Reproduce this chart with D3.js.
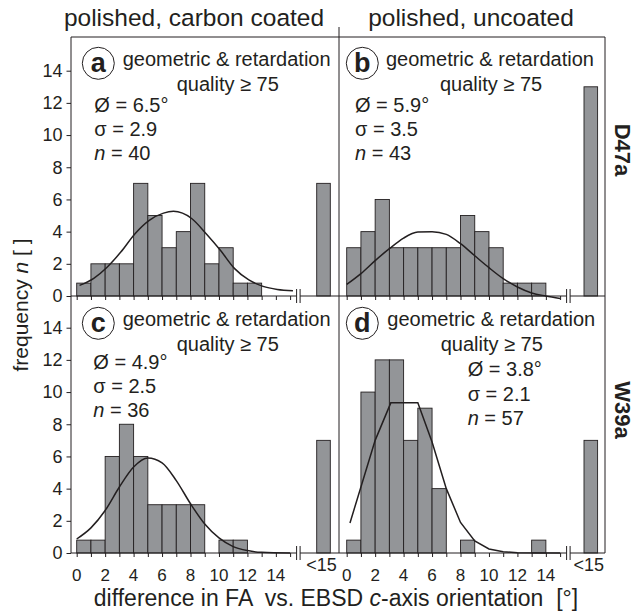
<!DOCTYPE html>
<meta charset="utf-8">
<style>
body { margin: 0; background: #fff; }
svg text { font-family: "Liberation Sans", Arial, sans-serif; fill: #231f20; }
</style>
<script src="https://d3js.org/d3.v7.min.js"></script>
<div id="chart"></div>
<script>

// ---- data ----
var bins = [0, 1, 2, 3, 4, 5, 6, 7, 8, 9, 10, 11, 12, 13, 14];
var countsA = [0.8, 2, 2, 2, 7, 5, 3, 4, 7, 2, 3, 0.8, 0.8, 0, 0];
var countsB = [3, 4, 6, 3, 3, 3, 3, 3, 5, 4, 3, 0.8, 0.8, 0.8, 0];
var countsC = [0.8, 0.8, 6, 8, 6, 3, 3, 3, 3, 0, 0.8, 0.8, 0, 0, 0];
var countsD = [0.8, 10, 12, 12, 7, 9, 4, 0, 0.8, 0, 0, 0, 0, 0.8, 0];
var over15 = [7, 13, 7, 7];

var curveA = [[0.2, 0.66], [1.2, 1.1], [2.1, 1.76], [3.1, 2.73], [4.1, 3.87], [5.1, 4.7], [6.1, 5.15],
  [6.8, 5.26], [8.1, 4.8], [9.1, 3.87], [10.1, 2.84], [11.1, 1.7], [12.1, 1.0], [13.1, 0.6], [14.1, 0.41], [15.2, 0.33]];
var curveB = [[0, 0.72], [1, 1.39], [2, 2.2], [3, 2.94], [4, 3.6], [5, 3.97], [6, 4.0], [7, 3.83],
  [8, 3.25], [9, 2.5], [10, 1.76], [11, 1.08], [12, 0.56], [13, 0.19], [14, 0], [15, -0.15]];
var curveC = [[0, 0.87], [1, 1.56], [2, 2.64], [3, 4.1], [4, 5.34], [5, 5.9], [6, 5.6], [7, 4.5],
  [8, 3.06], [9, 1.8], [10, 0.94], [11, 0.4], [12, 0.15], [13, 0.04], [15, 0]];
var curveD = [[0.23, 1.87], [1, 4.1], [2, 7.0], [3.1, 9.33], [5.0, 9.33], [6, 6.9], [7, 4.0],
  [8, 1.9], [9, 0.75], [10, 0.25], [11, 0.08], [12, 0.02], [15, 0]];

var letters = ["a", "b", "c", "d"];
var means = ["6.5", "5.9", "4.9", "3.8"];
var sigmas = ["2.9", "3.5", "2.5", "2.1"];
var ns = ["40", "43", "36", "57"];
var yTicks = [0, 2, 4, 6, 8, 10, 12, 14];
var xTickLabels = [0, 2, 4, 6, 8, 10, 12, 14];
var colTitles = ["polished, carbon coated", "polished, uncoated"];
var rowTitles = ["D47a", "W39a"];

// ---- layout ----
var W = 638, H = 612;
var frame = {left: 71, right: 605, top: 37, bottom: 553, mid: 339, row: 296};
var ink = "#231f20", barFill = "#939598";

var svg = d3.select("#chart").append("svg")
  .attr("width", W).attr("height", H);

var cols = [{x0: 76.7, over: 316.7}, {x0: 346.7, over: 584}];
var rows = [{base: 296}, {base: 553}];

var panels = [
  {c: 0, r: 0, counts: countsA, curve: curveA, circ: [98.3, 63.3], geo: 122.7, qual: 176.7, st: [94.3, 111.7, 24.2]},
  {c: 1, r: 0, counts: countsB, curve: curveB, circ: [362.3, 63.3], geo: 386, qual: 440, st: [355, 111.7, 24.2]},
  {c: 0, r: 1, counts: countsC, curve: curveC, circ: [98.3, 323.3], geo: 122.7, qual: 176.7, st: [93.3, 369, 23.8]},
  {c: 1, r: 1, counts: countsD, curve: curveD, circ: [362.3, 323.3], geo: 387.3, qual: 440.7, st: [467.7, 376, 24.5]}
];

panels.forEach(function(p, i) {
  var col = cols[p.c], row = rows[p.r];
  var x = d3.scaleLinear().domain([0, 15]).range([col.x0, col.x0 + 213.4]);
  var y = d3.scaleLinear().domain([0, 14]).range([row.base, row.base - 225.3]);
  var xo = d3.scaleBand().domain(["<15"]).range([col.over, col.over + 13.6]);
  var g = svg.append("g");

  // bars
  g.selectAll("rect.bin").data(bins).enter().append("rect")
    .attr("class", "bin")
    .filter(function(d, j) { return p.counts[j] > 0; })
    .attr("x", function(d) { return x(d); })
    .attr("width", function(d) { return x(d + 1) - x(d); })
    .attr("y", function(d) { return y(p.counts[bins.indexOf(d)]); })
    .attr("height", function(d) { return y(0) - y(p.counts[bins.indexOf(d)]); })
    .attr("fill", barFill).attr("stroke", ink).attr("stroke-width", 0.9);

  g.append("rect")
    .attr("x", xo("<15")).attr("width", xo.bandwidth())
    .attr("y", y(over15[i])).attr("height", y(0) - y(over15[i]))
    .attr("fill", barFill).attr("stroke", ink).attr("stroke-width", 0.9);

  // fitted curve
  g.append("path").datum(p.curve)
    .attr("fill", "none").attr("stroke", ink).attr("stroke-width", 1.5)
    .attr("d", d3.line()
      .x(function(d) { return x(d[0]); })
      .y(function(d) { return y(d[1]); })
      .curve(i === 3 ? d3.curveLinear : d3.curveMonotoneX));

  // x axis with break
  var xl = p.c === 0 ? frame.left : frame.mid;
  var xr = p.c === 0 ? frame.mid : frame.right;
  var b1 = x(15) + 6.5, b2 = x(15) + 10;
  g.append("line").attr("x1", xl).attr("x2", b1).attr("y1", row.base).attr("y2", row.base)
    .attr("stroke", ink).attr("stroke-width", 1);
  g.append("line").attr("x1", b2).attr("x2", xr).attr("y1", row.base).attr("y2", row.base)
    .attr("stroke", ink).attr("stroke-width", 1);
  [b1, b2].forEach(function(bx) {
    g.append("line").attr("x1", bx).attr("x2", bx).attr("y1", row.base - 7).attr("y2", row.base + 7)
      .attr("stroke", ink).attr("stroke-width", 1);
  });
  var ax = g.append("g").attr("transform", "translate(0," + row.base + ")")
    .call(d3.axisBottom(x).tickValues(d3.range(0, 16)).tickSize(4).tickFormat(""));
  ax.select(".domain").remove();
  ax.selectAll("line").attr("stroke", ink);

  if (p.r === 1) {
    svg.append("g").selectAll("text").data(xTickLabels).enter().append("text")
      .attr("x", function(d) { return x(d); })
      .attr("y", 581)
      .attr("text-anchor", "middle")
      .style("font-size", "17px")
      .text(function(d) { return d; });
    svg.append("text")
      .attr("x", xo("<15") + xo.bandwidth() / 2 - 2).attr("y", 571)
      .attr("text-anchor", "middle").style("font-size", "18px")
      .text("<15");
  }

  // y axis for left column
  if (p.c === 0) {
    var ay = svg.append("g").attr("transform", "translate(" + frame.left + ",0)")
      .call(d3.axisLeft(y).tickValues(yTicks).tickSize(4.5).tickPadding(4));
    ay.select(".domain").remove();
    ay.selectAll("line").attr("stroke", ink);
    ay.selectAll("text").style("font-size", "18px").attr("fill", ink)
      .style("font-family", "Liberation Sans, Arial, sans-serif");
  }

  // labels
  g.append("circle").attr("cx", p.circ[0]).attr("cy", p.circ[1]).attr("r", 16)
    .attr("fill", "#fff").attr("stroke", ink).attr("stroke-width", 1);
  g.append("text").attr("x", p.circ[0]).attr("y", p.circ[1] + 9)
    .attr("text-anchor", "middle").style("font-size", "27px").style("font-weight", "bold")
    .text(letters[i]);
  g.append("text").attr("x", p.geo).attr("y", p.circ[1] + 2.7)
    .style("font-size", "20px").text("geometric & retardation");
  g.append("text").attr("x", p.qual).attr("y", p.circ[1] + 27.4)
    .style("font-size", "20px").text("quality \u2265 75");
  g.append("text").attr("x", p.st[0]).attr("y", p.st[1])
    .style("font-size", "20px").text("\u00d8 = " + means[i] + "\u00b0");
  g.append("text").attr("x", p.st[0]).attr("y", p.st[1] + p.st[2])
    .style("font-size", "20px").text("\u03c3 = " + sigmas[i]);
  var tn = g.append("text").attr("x", p.st[0]).attr("y", p.st[1] + 2 * p.st[2])
    .style("font-size", "20px");
  tn.append("tspan").style("font-style", "italic").text("n");
  tn.append("tspan").text(" = " + ns[i]);
});

// frame
var fr = svg.append("g").attr("stroke", ink).attr("stroke-width", 1).attr("fill", "none");
fr.append("line").attr("x1", frame.left).attr("x2", frame.right).attr("y1", frame.top).attr("y2", frame.top);
fr.append("line").attr("x1", frame.left).attr("x2", frame.left).attr("y1", frame.top).attr("y2", frame.bottom);
fr.append("line").attr("x1", frame.right).attr("x2", frame.right).attr("y1", frame.top).attr("y2", frame.bottom);
fr.append("line").attr("x1", frame.mid).attr("x2", frame.mid).attr("y1", 27).attr("y2", frame.bottom);

// titles
svg.selectAll("text.col").data(colTitles).enter().append("text")
  .attr("class", "col")
  .attr("x", function(d, i) { return i === 0 ? 194 : 471; })
  .attr("y", 26)
  .attr("text-anchor", "middle").style("font-size", "24.5px")
  .text(function(d) { return d; });

svg.selectAll("text.row").data(rowTitles).enter().append("text")
  .attr("class", "row")
  .attr("transform", function(d, i) { return "translate(615," + (i === 0 ? 150 : 410) + ") rotate(90)"; })
  .attr("text-anchor", "middle").style("font-size", "22px").style("font-weight", "bold")
  .text(function(d) { return d; });

var yt = svg.append("text")
  .attr("transform", "translate(28,305) rotate(-90)")
  .attr("text-anchor", "middle").style("font-size", "21px");
yt.append("tspan").text("frequency ");
yt.append("tspan").style("font-style", "italic").text("n");
yt.append("tspan").text(" [ ]");

var xt = svg.append("text")
  .attr("x", 336).attr("y", 606)
  .attr("xml:space", "preserve")
  .attr("text-anchor", "middle").style("font-size", "23px")
  .style("white-space", "pre");
xt.append("tspan").text("difference in FA  vs. EBSD ");
xt.append("tspan").style("font-style", "italic").text("c");
xt.append("tspan").text("-axis orientation  [\u00b0]");

</script>
